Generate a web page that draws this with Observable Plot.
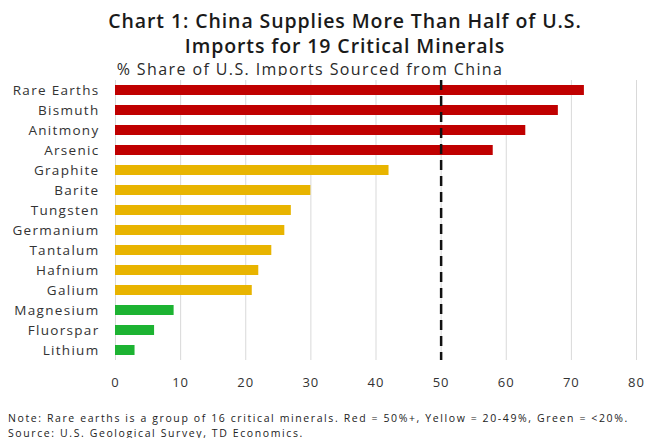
<!DOCTYPE html>
<html>
<head>
<meta charset="utf-8">
<script src="https://cdn.jsdelivr.net/npm/d3@7"></script>
<script src="https://cdn.jsdelivr.net/npm/@observablehq/plot@0.6"></script>
<style>
  body { margin: 0; background: #fff; font-family: "Open Sans", sans-serif; color: #222; }
  #wrap { width: 650px; height: 438px; position: relative; overflow: hidden; }
  .title { position: absolute; left: 0; top: 8px; width: 690px; text-align: center; font-weight: 600; font-size: 19.5px; letter-spacing: 0.9px; line-height: 25px; color: #1a1a1a; }
  .subtitle { position: absolute; left: 0; top: 60px; width: 620px; text-align: center; font-size: 16px; letter-spacing: 1.4px; line-height: 18px; color: #2a2a2a; }
  #chart { position: absolute; left: 0; top: 76px; }
  .notes { position: absolute; left: 8px; top: 411px; font-size: 10.5px; letter-spacing: 1.6px; line-height: 14.5px; color: #222; white-space: nowrap; }
  svg text { font-family: "Open Sans", sans-serif; }
  .yax text { letter-spacing: 1.3px; }
  .xax text { letter-spacing: 1px; }
</style>
</head>
<body>
<div id="wrap">
  <div class="title">Chart 1: China Supplies More Than Half of U.S.<br>Imports for 19 Critical Minerals</div>
  <div class="subtitle">% Share of U.S. Imports Sourced from China</div>
  <div id="chart"></div>
  <div class="notes">Note: Rare earths is a group of 16 critical minerals. Red = 50%+, Yellow = 20-49%, Green = &lt;20%.<br>Source: U.S. Geological Survey, TD Economics.</div>
</div>
<script>
const minerals = ["Rare Earths","Bismuth","Anitmony","Arsenic","Graphite","Barite","Tungsten","Germanium","Tantalum","Hafnium","Galium","Magnesium","Fluorspar","Lithium"];
const shares = [72, 68, 63, 58, 42, 30, 27, 26, 24, 22, 21, 9, 6, 3];
const groups = ["50%+","50%+","50%+","50%+","20-49%","20-49%","20-49%","20-49%","20-49%","20-49%","20-49%","<20%","<20%","<20%"];
const groupNames = ["50%+","20-49%","<20%"];
const groupColors = ["#C00000","#E8B400","#1DB332"];
const xTicks = [0,10,20,30,40,50,60,70,80];
const threshold = [50];

const data = minerals.map((m, i) => ({mineral: m, share: shares[i], group: groups[i]}));

const chart = Plot.plot({
  width: 650,
  height: 330,
  marginTop: 4,
  marginBottom: 46,
  marginLeft: 115,
  marginRight: 14,
  style: {fontSize: "13.5px", color: "#333", background: "#fff"},
  x: {domain: [0, 80], ticks: xTicks, label: null},
  y: {domain: minerals, label: null, padding: 0},
  color: {type: "categorical", domain: groupNames, range: groupColors},
  marks: [
    Plot.ruleX(xTicks, {stroke: "#d9d9d9", strokeWidth: 1}),
    Plot.barX(data, {x: "share", y: "mineral", fill: "group", insetTop: 5, insetBottom: 5}),
    Plot.ruleX(threshold, {stroke: "#111", strokeWidth: 2.5, strokeDasharray: "10,6"}),
    Plot.axisY({tickSize: 0, tickPadding: 16, className: "yax", fontSize: 13.5}),
    Plot.axisX({ticks: xTicks, tickSize: 0, tickPadding: 17, className: "xax", fontSize: 13, label: null})
  ]
});
document.getElementById("chart").appendChild(chart);
</script>
</body>
</html>
